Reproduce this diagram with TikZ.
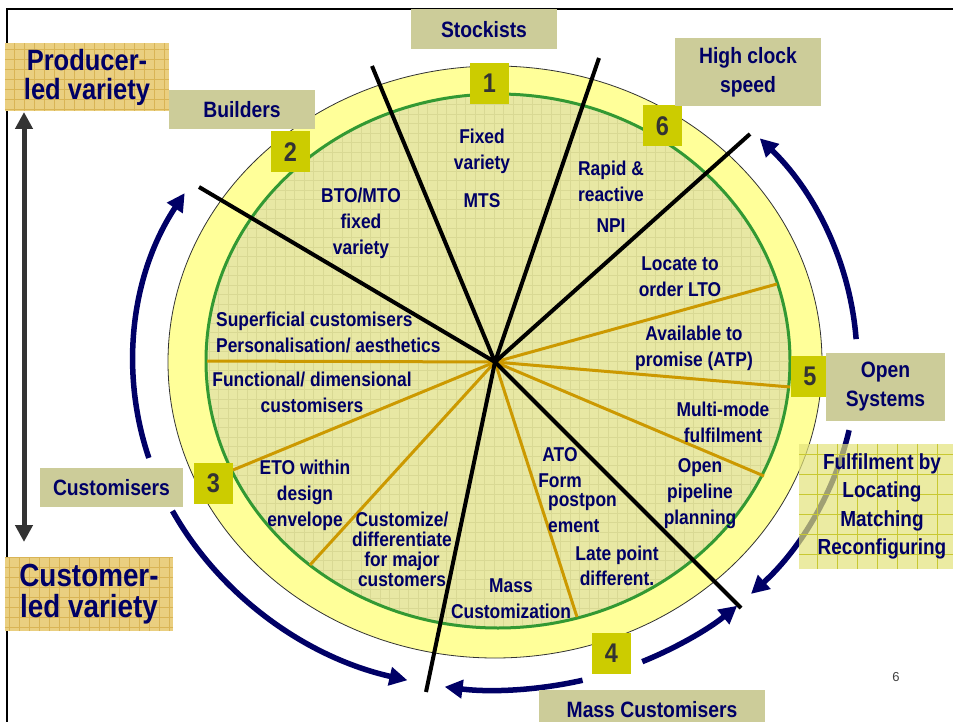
\documentclass[tikz,border=0pt]{standalone}
\usepackage{fontspec}
\setmainfont{Liberation Sans}[FakeStretch=0.87]
\newfontfamily\plainsans{Liberation Sans}
\usetikzlibrary{arrows.meta}
\definecolor{navy}{HTML}{000066}
\definecolor{khaki}{HTML}{CCCC99}
\definecolor{numgold}{HTML}{CCCC00}
\definecolor{numgrey}{HTML}{333333}
\definecolor{ring}{HTML}{FFFF99}
\definecolor{wheel}{HTML}{E8E8A4}
\definecolor{wheelgrid}{HTML}{D9D994}
\definecolor{rimgreen}{HTML}{339933}
\definecolor{gold}{HTML}{CC9900}
\definecolor{tan}{HTML}{EACF80}
\definecolor{tangrid}{HTML}{D9B455}
\definecolor{lime}{HTML}{E3E37A}
\definecolor{limegrid}{HTML}{C8C832}

\begin{document}
\begin{tikzpicture}[x=1pt,y=-1pt,
  every node/.style={text=navy},
  wtxt/.style={font=\bfseries\fontsize{20}{26}\selectfont,align=center,inner sep=0pt},
  tag/.style={fill=khaki,font=\bfseries\fontsize{22.2}{29}\selectfont,align=center,inner sep=0pt},
  num/.style={fill=numgold,text=numgrey,font=\bfseries\fontsize{27}{27}\selectfont,minimum width=39pt,minimum height=41pt,inner sep=0pt},
  spoke/.style={line width=4pt},
  subspoke/.style={gold,line width=3pt},
  swing/.style={navy,line width=5.5pt,-{Triangle[length=18pt,width=18pt]}},
  checks/.style 2 args={path picture={\draw[#1,line width=0.7pt,step=#2] (path picture bounding box.south west) grid (path picture bounding box.north east);}}]
\useasboundingbox (0,0) rectangle (953,722);
\draw[line width=2.5pt] (7,722) -- (7,9) -- (953,9);

% the wheel
\coordinate (hub) at (495,362);
\draw[fill=ring,draw=black!80,line width=0.8pt] (hub) ellipse [x radius=327,y radius=296];
\path[fill=wheel,checks={wheelgrid}{9.5pt}] (498,361) ellipse [x radius=292,y radius=267];
\draw[rimgreen,line width=3pt] (498,361) ellipse [x radius=292,y radius=267];
\foreach \x/\y [count=\i] in {207/361,233/470,310/565,577/617,777/284,790/387,764/476}
  {\coordinate (g\i) at (\x,\y); \draw[subspoke] (hub) -- (g\i);}
\foreach \x/\y [count=\i] in {372/66,599/58,750/134,199/187,426/692,741/608}
  {\coordinate (k\i) at (\x,\y); \draw[spoke] (hub) -- (k\i);}

\node[wtxt] (mts) at (482,168) {Fixed\\variety\\[12pt]MTS};
\node[wtxt] (bto) at (361,223) {BTO/MTO\\fixed\\variety};
\node[wtxt] (npi) at (611,197) {Rapid \&\\reactive\\[5pt]NPI};
\node[wtxt] (lto) at (680,277) {Locate to\\order LTO};
\node[wtxt] (atp) at (694,348) {Available to\\promise (ATP)};
\node[wtxt] (multi) at (723,422) {Multi-mode\\fulfilment};
\node[wtxt] (pipe) at (700,494) {Open\\pipeline\\planning};
\node[wtxt,anchor=west,align=left] (superf) at (216,332) {Superficial customisers\\Personalisation/ aesthetics};
\node[wtxt] (funct) at (312,392) {Functional/ dimensional\\customisers};
\node[wtxt] (eto) at (305,495) {ETO within\\design\\envelope};
\node[wtxt,font=\bfseries\fontsize{20}{20}\selectfont] (major) at (402,549) {Customize/\\differentiate\\for major\\customers};
\node[wtxt] (ato) at (560,468) {ATO\\Form};
\node[wtxt,anchor=west,align=left] (postp) at (548,513) {postpon\\ement};
\node[wtxt,font=\bfseries\fontsize{20}{25}\selectfont] (late) at (617,566) {Late point\\different.};
\node[wtxt] (masscz) at (511,599) {Mass\\Customization};

\node[num] (n1) at (489.5,83.5) {1};
\node[num] (n2) at (290.5,152) {2};
\node[num] (n3) at (213.5,483.5) {3};
\node[num] (n4) at (611.5,653.5) {4};
\node[num] (n5) at (810,376) {5};
\node[num] (n6) at (662.5,126) {6};

% arrows round the wheel
\draw[swing] (hub) ++(-197:362 and 328) arc[start angle=-197,end angle=-149,x radius=362,y radius=328];
\draw[swing] (hub) ++(-207:362 and 328) arc[start angle=-207,end angle=-256,x radius=362,y radius=328];
\draw[swing] (hub) ++(-284:362 and 328) arc[start angle=-284,end angle=-262,x radius=362,y radius=328];
\draw[swing] (hub) ++(-294:362 and 328) arc[start angle=-294,end angle=-312,x radius=362,y radius=328];
\draw[swing] (hub) ++(-4:362 and 328) arc[start angle=-4,end angle=-43,x radius=362,y radius=328];
\draw[swing] (hub) ++(-348:362 and 328) arc[start angle=-348,end angle=-315,x radius=362,y radius=328];

\node[tag,minimum width=146pt,minimum height=40pt] (stock) at (484,29.5) {Stockists};
\node[tag,minimum width=146pt,minimum height=39pt] (build) at (242,109.5) {Builders};
\node[tag,minimum width=146pt,minimum height=68pt] (clock) at (748,72) {High clock\\speed};
\node[tag,minimum width=119pt,minimum height=68pt] (open) at (885.5,387) {Open\\Systems};
\node[tag,minimum width=143pt,minimum height=39pt] (cust) at (111.5,487.5) {Customisers};
\node[tag,minimum width=226pt,minimum height=40pt] (masscust) at (652,710) {Mass Customisers};
\node[fill=lime,fill opacity=0.7,text opacity=1,checks={limegrid}{20pt},font=\bfseries\fontsize{21.8}{28.5}\selectfont,align=center,inner sep=0pt,minimum width=166pt,minimum height=125pt] (fulfil) at (882,506.5) {Fulfilment by\\Locating\\Matching\\Reconfiguring};

% producer / customer led variety
\node[fill=tan,checks={tangrid}{10pt},font=\bfseries\fontsize{29.3}{29}\selectfont,align=center,inner sep=0pt,minimum width=164pt,minimum height=68pt] (prod) at (87,77) {Producer-\\led variety};
\node[fill=tan,checks={tangrid}{10pt},font=\bfseries\fontsize{32}{31}\selectfont,align=center,inner sep=0pt,minimum width=168pt,minimum height=74pt] (custled) at (89,594) {Customer-\\led variety};
\coordinate (up) at (24,112);
\coordinate (down) at (24,542);
\draw[numgrey,line width=5pt,{Triangle[length=17pt,width=17pt]}-{Triangle[length=17pt,width=17pt]}] (up) -- (down);

\node[text=black!75,font=\plainsans\fontsize{13}{13}\selectfont] (page) at (896,677) {6};
\end{tikzpicture}
\end{document}
